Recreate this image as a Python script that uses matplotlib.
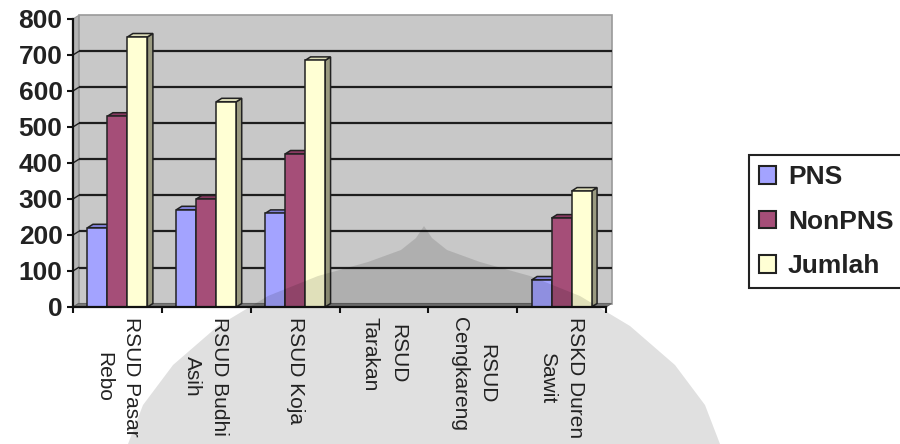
import matplotlib
matplotlib.use('Agg')
import matplotlib.pyplot as plt
from matplotlib.patches import Polygon, Patch
import numpy as np

categories = ['RSUD Pasar\nRebo', 'RSUD Budhi\nAsih', 'RSUD Koja',
              'RSUD\nTarakan', 'RSUD\nCengkareng', 'RSKD Duren\nSawit']
pns = [220, 270, 260, 0, 0, 75]
nonpns = [530, 300, 425, 0, 0, 247]
jumlah = [750, 570, 685, 0, 0, 322]
series_names = ['PNS', 'NonPNS', 'Jumlah']
yticks = [0, 100, 200, 300, 400, 500, 600, 700, 800]

front_cols = ['#A3A3FF', '#A54E78', '#FFFFD4']
top_cols = ['#8080D8', '#8A3A62', '#DCDCB8']
side_cols = ['#7070B8', '#702850', '#9A9A80']
edge = '#222222'

plt.rcParams['font.family'] = ['Liberation Sans', 'DejaVu Sans']

W, H = 900, 444
fig = plt.figure(figsize=(W / 100, H / 100), dpi=100)
ax_l, ax_b, ax_w, ax_h = 73, 137, 533, 288
ax = fig.add_axes([ax_l / W, ax_b / H, ax_w / W, ax_h / H])
n = len(categories)
x = np.arange(n)
ax.set_xlim(-0.5, n - 0.5)
ax.set_ylim(yticks[0], yticks[-1])
ax.patch.set_visible(False)

# depth offset (pixels -> data)
dx_px, dy_px = 5.5, 3.5
dxd = dx_px / (ax_w / n)
dyd = dy_px / (ax_h / (yticks[-1] - yticks[0]))
x0, x1 = -0.5, n - 0.5
ytop = yticks[-1]

# walls and floor
ax.add_patch(Polygon([(x0 + dxd, dyd), (x1 + dxd, dyd), (x1 + dxd, ytop + dyd), (x0 + dxd, ytop + dyd)],
                     closed=True, fc='#C8C8C8', ec='#9A9A9A', lw=1.2, clip_on=False, zorder=0))
ax.add_patch(Polygon([(x0, 0), (x0 + dxd, dyd), (x0 + dxd, ytop + dyd), (x0, ytop)],
                     closed=True, fc='#B4B4B4', ec='#9A9A9A', lw=0.8, clip_on=False, zorder=0.5))
ax.add_patch(Polygon([(x0, 0), (x1, 0), (x1 + dxd, dyd), (x0 + dxd, dyd)],
                     closed=True, fc='#7A7A7A', ec='#666666', lw=0.8, clip_on=False, zorder=0.5))
for yv in yticks[1:-1]:
    ax.plot([x0 + dxd, x1 + dxd], [yv + dyd, yv + dyd], color='#1E1E1E', lw=1.6,
            clip_on=False, zorder=1, solid_capstyle='butt')
    ax.plot([x0, x0 + dxd], [yv, yv + dyd], color='#1E1E1E', lw=1.0, clip_on=False, zorder=1)

# 3D bars
bw = 0.225
series = [pns, nonpns, jumlah]
z = 2
for i in range(n):
    for s, vals in enumerate(series):
        v = vals[i]
        if v <= 0:
            continue
        xl = x[i] + (s - 1) * bw - bw / 2
        xr = xl + bw
        ax.add_patch(Polygon([(xr, 0), (xr + dxd, dyd), (xr + dxd, v + dyd), (xr, v)],
                             closed=True, fc=side_cols[s], ec=edge, lw=1.1, zorder=z, clip_on=False))
        ax.add_patch(Polygon([(xl, v), (xr, v), (xr + dxd, v + dyd), (xl + dxd, v + dyd)],
                             closed=True, fc=top_cols[s], ec=edge, lw=1.1, zorder=z, clip_on=False))
        ax.bar(xl, v, width=bw, align='edge', color=front_cols[s], edgecolor=edge,
               linewidth=1.1, zorder=z + 0.5, clip_on=False)
        z += 1

# faint background watermark (decorative dome), in figure pixels (origin top-left);
# drawn above the bars but below axis lines and labels
cx = 424
half = [(424, 226), (432, 238), (447, 250), (480, 262), (530, 276), (580, 296),
        (630, 326), (675, 365), (705, 405), (720, 444)]
outline = [(px, H - py) for px, py in half] + [(2 * cx - px, H - py) for px, py in half[::-1]][:-1]
ax.add_patch(Polygon(outline, closed=True, transform=None, fc='black', ec='none',
                     alpha=0.12, zorder=40, clip_on=False))

# spines
for sp in ['top', 'right']:
    ax.spines[sp].set_visible(False)
for sp in ['left', 'bottom']:
    ax.spines[sp].set_color('#111111')
    ax.spines[sp].set_linewidth(1.6)
    ax.spines[sp].set_zorder(50)
ax.xaxis.set_zorder(60)
ax.yaxis.set_zorder(60)

ax.set_yticks(yticks)
ax.set_yticklabels([str(t) for t in yticks], fontsize=19, fontweight='bold', color='#222222')
ax.tick_params(axis='y', direction='out', length=4.5, width=1.5, pad=3, color='#111111')

ax.set_xticks(x)
ax.set_xticklabels(categories, rotation=270, ha='center', va='top', multialignment='center',
                   fontsize=15, color='#222222', linespacing=1.55)
ax.tick_params(axis='x', which='major', length=0, pad=7)
ax.set_xticks(np.arange(n + 1) - 0.5, minor=True)
ax.tick_params(axis='x', which='minor', direction='out', length=4.5, width=1.5, color='#111111')

handles = [Patch(fc=front_cols[s], ec=edge, lw=1.5) for s in range(3)]
leg = fig.legend(handles, series_names, loc='upper left', bbox_to_anchor=(749 / W, 1 - 155 / H),
                 frameon=True, fancybox=False, edgecolor='#222222', framealpha=1,
                 prop={'size': 19, 'weight': 'bold'}, handlelength=0.65, handleheight=0.65,
                 handletextpad=0.45, labelspacing=0.78, borderpad=0.38, borderaxespad=0)
leg.get_frame().set_linewidth(1.5)
for t in leg.get_texts():
    t.set_color('#222222')

fig.savefig('out.png', dpi=100)
